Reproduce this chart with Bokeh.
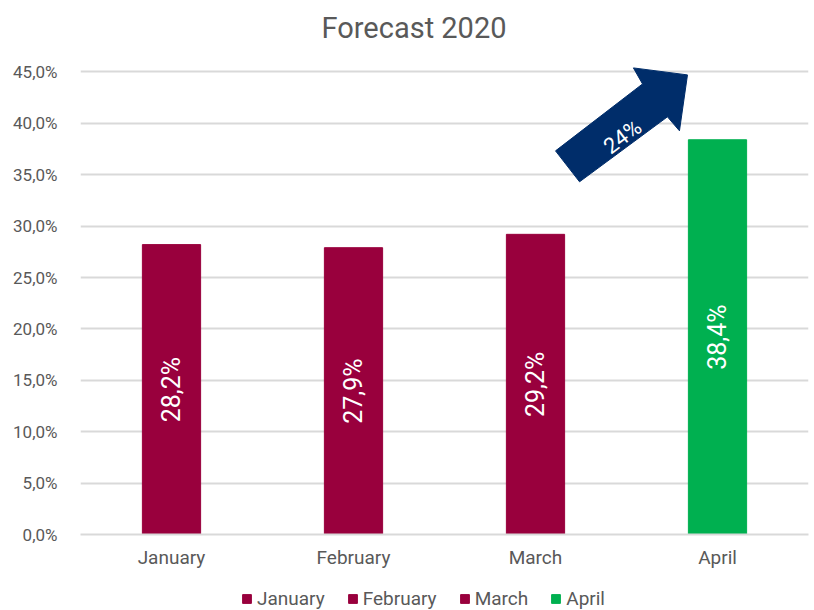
from math import radians
from bokeh.plotting import figure
from bokeh.layouts import column
from bokeh.models import (ColumnDataSource, Range1d, FactorRange, Legend, LegendItem,
                          CustomJSTickFormatter, SingleIntervalTicker)
from bokeh.core.properties import value
from bokeh.embed import file_html
from bokeh.resources import INLINE

# ---- data ----
months = ["January", "February", "March", "April"]
values = [28.2, 27.9, 29.2, 38.4]
labels = ["28,2%", "27,9%", "29,2%", "38,4%"]
colors = ["#99003D", "#99003D", "#99003D", "#00B050"]
growth_label = "24%"

FONT = "Roboto"
GREY = "#595959"

src = ColumnDataSource(dict(month=months, val=values, half=[v / 2 for v in values],
                            lab=labels, color=colors))

p = figure(width=814, height=586, x_range=FactorRange(*months, range_padding=0),
           y_range=Range1d(0, 46.5), output_backend="svg", toolbar_location=None,
           min_border_left=80, min_border_right=6, min_border_top=56, min_border_bottom=52)
p.outline_line_color = None
p.background_fill_color = "white"
p.border_fill_color = "white"

p.title.text = "Forecast 2020"
p.title.align = "left"
p.title.vertical_align = "top"
p.title.offset = 241
p.title.text_font = FONT
p.title.text_font_size = "29px"
p.title.text_font_style = "normal"
p.title.text_color = GREY
p.title.standoff = 20

bars = p.vbar(x="month", top="val", width=0.32, color="color", source=src)

p.text(x="month", y="half", text="lab", angle=radians(90), source=src,
       text_align="center", text_baseline="middle", text_color="white",
       text_font=value(FONT), text_font_size="25px")

# arrow annotation (data coords on the synthetic categorical scale)
arrow_x = [2.610, 3.088, 3.038, 3.335, 3.291, 3.225, 2.742]
arrow_y = [37.32, 43.83, 45.39, 44.71, 39.27, 40.63, 34.31]
p.patch(arrow_x, arrow_y, color="#002D6A", line_color="#002D6A")
p.text(x=[2.978], y=[38.7], text=[growth_label], angle=radians(37),
       text_align="center", text_baseline="middle", text_color="white",
       text_font=value(FONT), text_font_size="22px")

# axes
p.yaxis.ticker = SingleIntervalTicker(interval=5)
p.yaxis.formatter = CustomJSTickFormatter(code="return tick.toFixed(1).replace('.', ',') + '%';")
p.yaxis.axis_line_color = None
p.yaxis.major_tick_line_color = None
p.yaxis.minor_tick_line_color = None
p.yaxis.major_label_text_font = FONT
p.yaxis.major_label_text_font_size = "17px"
p.yaxis.major_label_text_color = GREY
p.yaxis.major_label_standoff = 17

p.xaxis.axis_line_color = "#D9D9D9"
p.xaxis.axis_line_width = 2
p.xaxis.major_tick_line_color = None
p.xaxis.minor_tick_line_color = None
p.xaxis.major_label_text_font = FONT
p.xaxis.major_label_text_font_size = "19px"
p.xaxis.major_label_text_color = GREY
p.xaxis.major_label_standoff = 5

p.xgrid.grid_line_color = None
p.ygrid.grid_line_color = "#D9D9D9"
p.ygrid.grid_line_width = 2

# legend in a thin strip below the chart
lf = figure(width=814, height=24, x_range=Range1d(0, 1), y_range=Range1d(0, 1),
            output_backend="svg", toolbar_location=None,
            min_border=0, min_border_left=0, min_border_right=0,
            min_border_top=0, min_border_bottom=0)
lf.axis.visible = False
lf.grid.visible = False
lf.outline_line_color = None
items = []
for i, m in enumerate(months):
    r = lf.rect(x=[-5], y=[-5], width=1, height=1, color=colors[i])
    items.append(LegendItem(label=m, renderers=[r]))
legend = Legend(items=items, orientation="horizontal", location=(161, 0),
                label_text_font=FONT, label_text_font_size="19px", label_text_color=GREY,
                glyph_width=11, glyph_height=11, spacing=22, label_standoff=5,
                label_height=20, border_line_color=None, background_fill_alpha=0,
                margin=0, padding=2)
lf.add_layout(legend, "center")

open("out.html", "w").write(file_html(column(p, lf, spacing=0), INLINE))
